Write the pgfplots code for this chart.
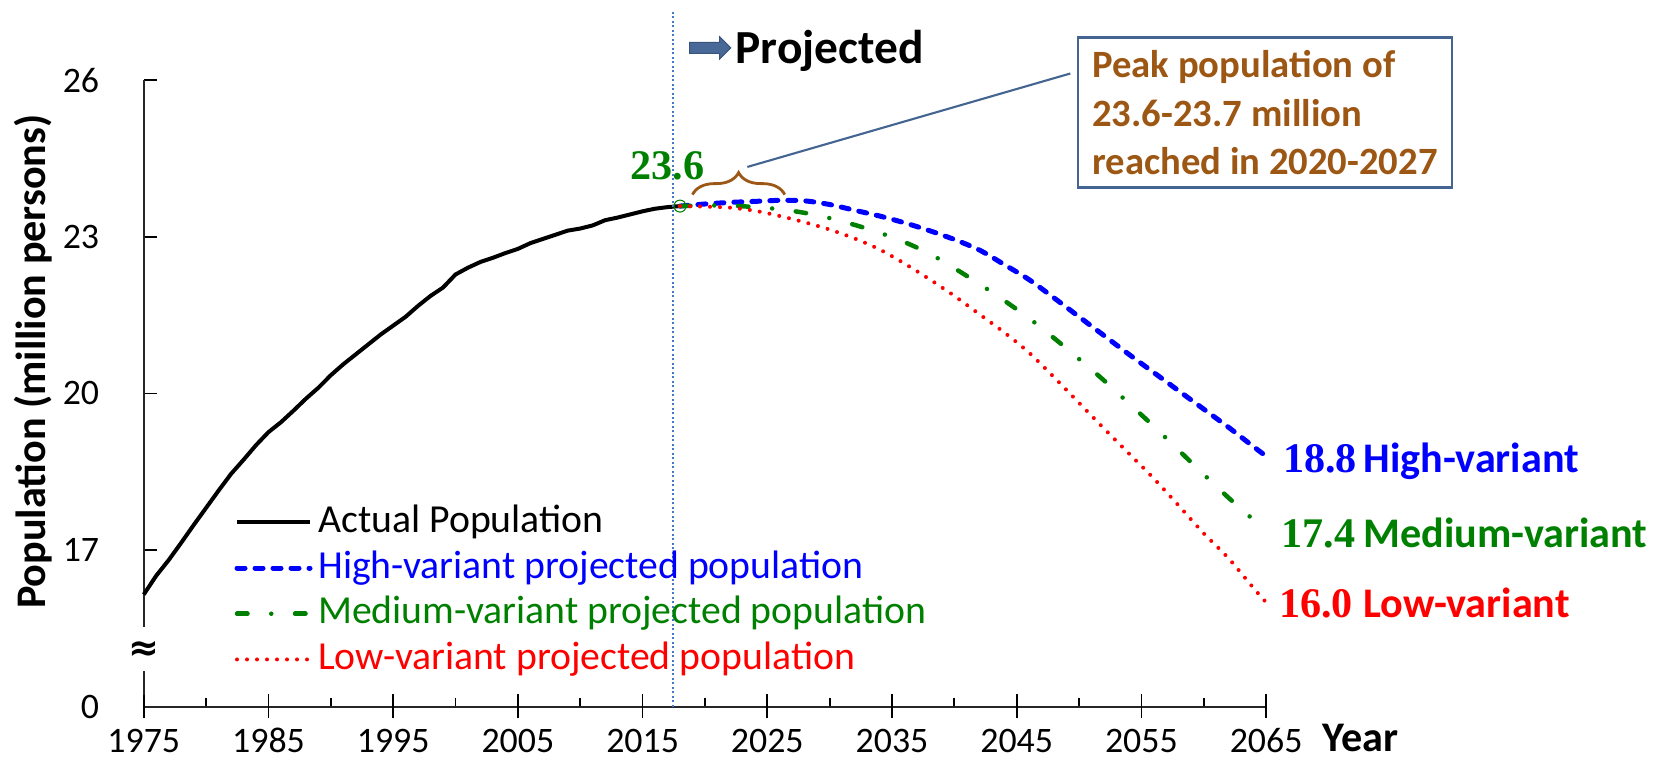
\documentclass[border=0pt]{standalone}
\usepackage{fontspec}
\setmainfont{Carlito}
\newfontfamily\numfont{Liberation Serif}
\newfontfamily\symfont{DejaVu Sans}
\usepackage{pgfplots}
\pgfplotsset{compat=1.18}
\usetikzlibrary{decorations.pathreplacing,shapes.arrows}

\definecolor{hiblue}{RGB}{0,0,255}
\definecolor{medgreen}{RGB}{0,128,0}
\definecolor{lowred}{RGB}{255,0,0}
\definecolor{peakbrown}{RGB}{157,87,21}
\definecolor{boxblue}{RGB}{68,100,145}
\definecolor{vlineblue}{RGB}{70,120,200}
\definecolor{arrowblue}{RGB}{72,104,152}

% actual population (million persons)
\pgfplotstableread{
year pop
1975 16.15
1976 16.51
1977 16.81
1978 17.14
1979 17.48
1980 17.81
1981 18.14
1982 18.46
1983 18.73
1984 19.01
1985 19.26
1986 19.45
1987 19.67
1988 19.90
1989 20.11
1990 20.35
1991 20.56
1992 20.75
1993 20.94
1994 21.13
1995 21.30
1996 21.47
1997 21.68
1998 21.87
1999 22.03
2000 22.28
2001 22.41
2002 22.52
2003 22.60
2004 22.69
2005 22.77
2006 22.88
2007 22.96
2008 23.04
2009 23.12
2010 23.16
2011 23.22
2012 23.32
2013 23.37
2014 23.43
2015 23.49
2016 23.54
2017 23.57
2018 23.59
}\actualdata

% projections: high / medium / low variant
\pgfplotstableread{
year high medium low
2018 23.59 23.59 23.59
2020 23.63 23.60 23.58
2022 23.66 23.60 23.56
2024 23.68 23.57 23.50
2026 23.70 23.53 23.40
2028 23.69 23.46 23.28
2030 23.62 23.36 23.14
2032 23.51 23.23 22.97
2034 23.40 23.08 22.76
2036 23.27 22.90 22.49
2038 23.12 22.68 22.19
2040 22.95 22.40 21.87
2042 22.75 22.10 21.52
2044 22.47 21.78 21.17
2046 22.18 21.44 20.78
2048 21.83 21.06 20.31
2050 21.47 20.66 19.82
2052 21.11 20.25 19.33
2054 20.75 19.81 18.85
2056 20.40 19.37 18.37
2058 20.05 18.91 17.85
2060 19.70 18.45 17.32
2062 19.35 18.00 16.84
2064 18.98 17.58 16.27
2065 18.80 17.40 16.00
}\projdata

\begin{document}
\begin{tikzpicture}
\begin{axis}[
  scale only axis,
  width=112.23mm, height=62.64mm,
  xmin=1975, xmax=2065, ymin=14, ymax=26,
  axis lines*=left,
  axis line style={line width=0.5pt, black!85},
  clip=false,
  xtick={1975,1985,...,2065},
  xticklabels={1975,1985,1995,2005,2015,2025,2035,2045,2055,2065},
  minor x tick num=1,
  ytick={14,17,20,23,26},
  yticklabels={0,17,20,23,26},
  tick align=inside,
  major tick length=1.3mm,
  minor tick length=0.85mm,
  tick style={line width=0.5pt, black},
  extra x ticks={1975,1985,...,2065},
  extra x tick labels={},
  extra x tick style={tick align=center, major tick length=2.3mm},
  ticklabel style={font=\fontsize{10.2}{12}\selectfont},
  xticklabel style={anchor=base, inner sep=0pt, yshift=-4.55mm},
  yticklabel style={anchor=east, inner sep=0pt, xshift=-4.4mm},
  ylabel={Population (million persons)},
  ylabel style={at={(axis description cs:-0.099,0.5507)}, anchor=center,
    font=\bfseries\fontsize{12}{14}\selectfont},
  legend style={at={(axis description cs:0.0802,0.3286)}, anchor=north west,
    draw=none, fill=none, inner sep=0pt, row sep=0.42mm,
    font=\fontsize{11.3}{13}\selectfont,
    nodes={inner sep=0.5pt, text height=2.9mm, text depth=0.9mm},
    /tikz/every odd column/.append style={column sep=0.4mm}},
  legend cell align=left,
  legend image code/.code={\draw[#1] (0mm,0mm) -- (7.3mm,0mm);},
]

\addplot[black, line width=0.4mm] table[x=year, y=pop] {\actualdata};
\addlegendentry{Actual Population}
\addplot[hiblue, line width=0.5mm, line cap=round, smooth,
  dash pattern=on 0.8mm off 1.0mm] table[x=year, y=high] {\projdata};
\addlegendentry{\textcolor{hiblue}{High-variant projected population}}
\addplot[medgreen, line width=0.45mm, line cap=round, smooth,
  dash pattern=on 1.05mm off 2.375mm on 0mm off 2.375mm] table[x=year, y=medium] {\projdata};
\addlegendentry{\textcolor{medgreen}{Medium-variant projected population}}
\addplot[lowred, line width=0.4mm, line cap=round, smooth,
  dash pattern=on 0mm off 1mm] table[x=year, y=low] {\projdata};
\addlegendentry{\textcolor{lowred}{Low-variant projected population}}

% start of projection
\addplot[vlineblue, line width=0.2mm, dash pattern=on 0.2mm off 0.25mm, forget plot]
  coordinates {(2017.45,14) (2017.45,27.35)};
\addplot[medgreen, only marks, mark=o, mark size=0.6mm,
  mark options={line width=0.3pt}, forget plot] coordinates {(2018,23.59)};

% broken y axis
\node[fill=white, inner sep=0pt, minimum width=2mm, minimum height=4.4mm]
  at (axis cs:1975,15.1) {};
\node[inner sep=0pt, font=\symfont\bfseries\fontsize{10.5}{11}\selectfont]
  at (axis cs:1975,15.07) {≈};

% x axis name
\node[anchor=base west, inner sep=0pt, font=\bfseries\fontsize{12}{14}\selectfont]
  at (axis cs:2069.5,13.15) {Year};

% projected marker
\node[single arrow, fill=arrowblue, draw=arrowblue!80!black, line width=0.3pt,
  minimum height=4.1mm, minimum width=2.2mm, single arrow head extend=0.55mm,
  inner sep=0.5mm] at (axis cs:2020.2,26.62) {};
\node[anchor=base west, inner sep=0pt, font=\bfseries\fontsize{13.5}{15}\selectfont]
  at (axis cs:2022.4,26.32) {Projected};

% peak annotation
\node[font=\numfont\bfseries\fontsize{12}{14}\selectfont, text=medgreen]
  at (axis cs:2017.0,24.37) {23.6};
\draw[peakbrown, line width=0.8pt, decorate, decoration={brace, amplitude=2.2mm}]
  (axis cs:2019.0,23.81) -- (axis cs:2026.4,23.81);
\draw[boxblue, line width=0.6pt] (axis cs:2023.4,24.34) -- (axis cs:2049.3,26.13);
\node[draw=boxblue, line width=0.7pt, anchor=north west, minimum width=37.4mm,
  minimum height=15mm, align=left, inner sep=0.9mm,
  text=peakbrown, font=\bfseries\fontsize{11}{13.8}\selectfont]
  at (axis cs:2049.82,26.84) {Peak population of\\23.6-23.7 million\\reached in 2020-2027};

% end labels
\node[anchor=base west, inner sep=0pt, text=hiblue, font=\numfont\bfseries\fontsize{12}{14}\selectfont]
  at (axis cs:2066.3,18.48) {18.8};
\node[anchor=base west, inner sep=0pt, text=hiblue, font=\bfseries\fontsize{12}{14}\selectfont]
  at (axis cs:2072.75,18.48) {High-variant};
\node[anchor=base west, inner sep=0pt, text=medgreen, font=\numfont\bfseries\fontsize{12}{14}\selectfont]
  at (axis cs:2066.2,17.04) {17.4};
\node[anchor=base west, inner sep=0pt, text=medgreen, font=\bfseries\fontsize{12}{14}\selectfont]
  at (axis cs:2072.75,17.04) {Medium-variant};
\node[anchor=base west, inner sep=0pt, text=lowred, font=\numfont\bfseries\fontsize{12}{14}\selectfont]
  at (axis cs:2066.0,15.70) {16.0};
\node[anchor=base west, inner sep=0pt, text=lowred, font=\bfseries\fontsize{12}{14}\selectfont]
  at (axis cs:2072.75,15.70) {Low-variant};
\end{axis}
\pgfresetboundingbox
\path[use as bounding box] (-14.38mm,-5.03mm) rectangle (151.82mm,70.67mm);
\end{tikzpicture}
\end{document}
